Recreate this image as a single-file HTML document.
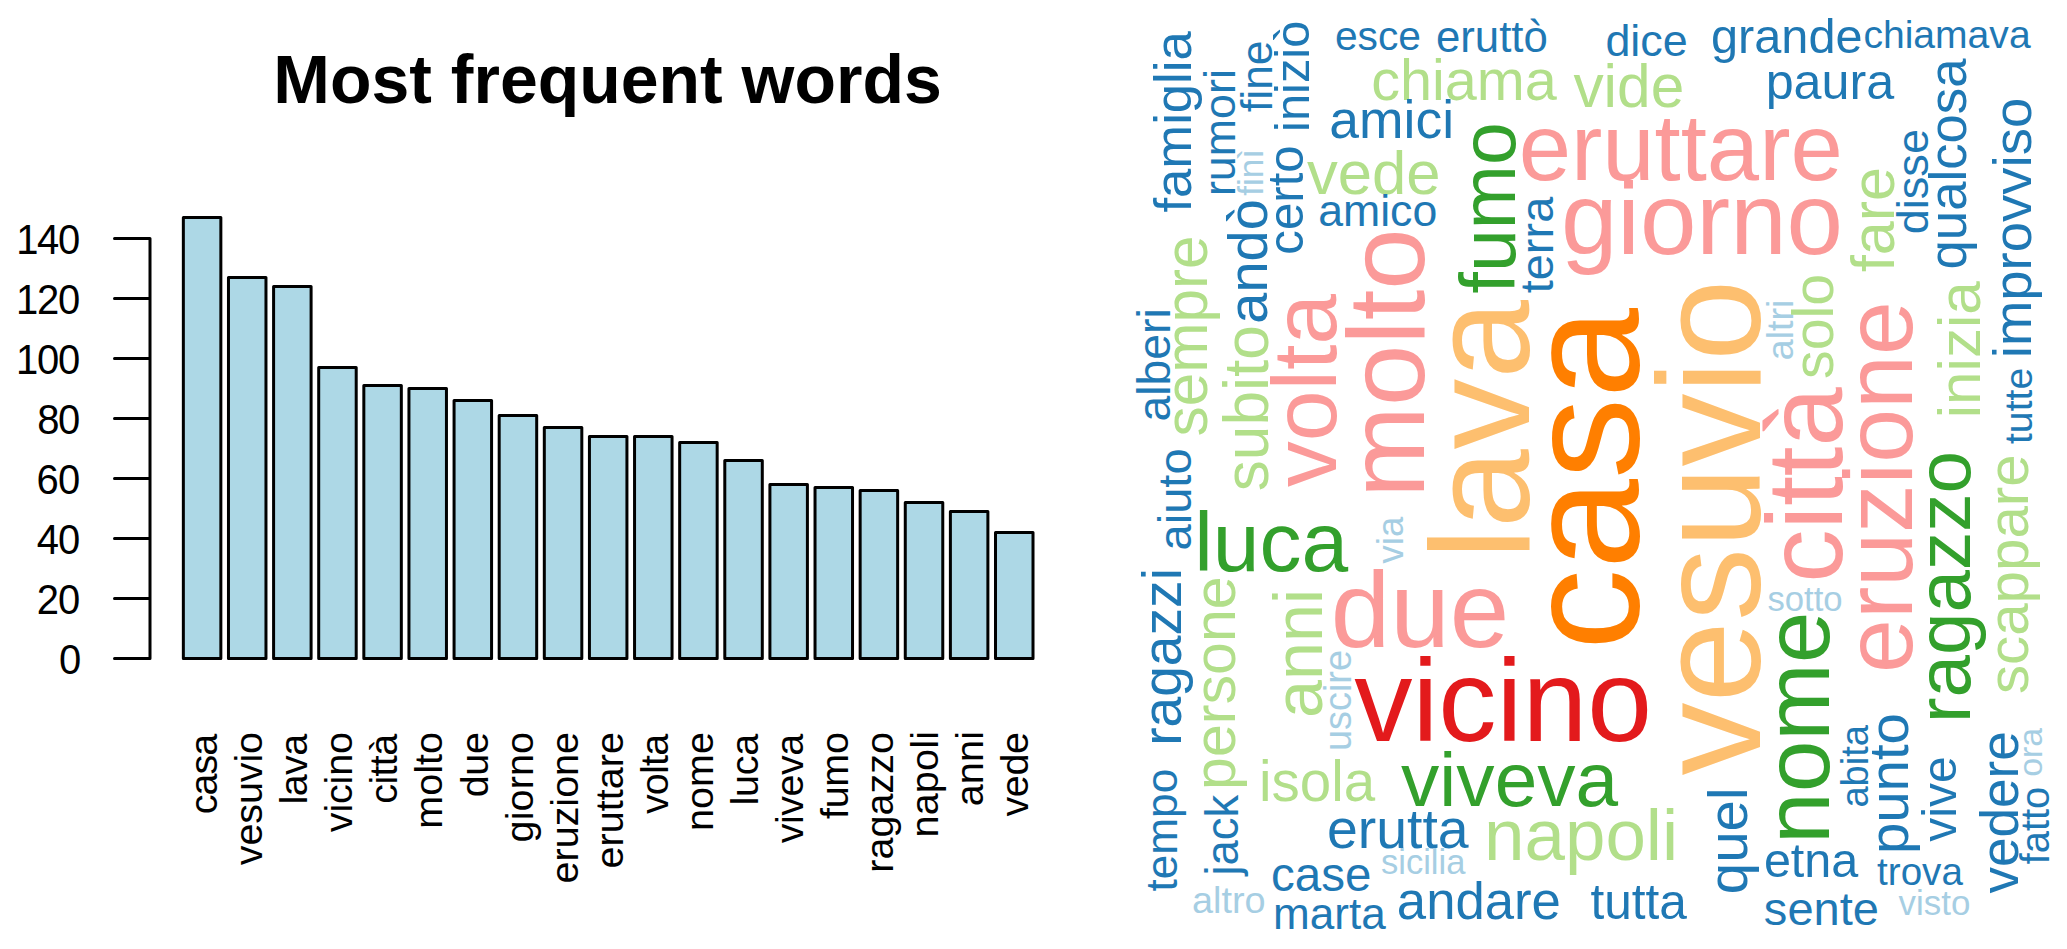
<!DOCTYPE html>
<html><head><meta charset="utf-8"><title>Most frequent words</title>
<style>html,body{margin:0;padding:0;background:#fff;width:2067px;height:949px;overflow:hidden}
svg text{font-family:"Liberation Sans",sans-serif}</style></head>
<body>
<svg width="2067" height="949" viewBox="0 0 2067 949" style="position:absolute;left:0;top:0">
<rect width="2067" height="949" fill="#fff"/>
<g fill="#ADD8E6" stroke="#000" stroke-width="3" stroke-linejoin="round"><rect x="183.35" y="217.60" width="37.50" height="441.00"/><rect x="228.47" y="277.60" width="37.50" height="381.00"/><rect x="273.59" y="286.60" width="37.50" height="372.00"/><rect x="318.71" y="367.60" width="37.50" height="291.00"/><rect x="363.83" y="385.60" width="37.50" height="273.00"/><rect x="408.95" y="388.60" width="37.50" height="270.00"/><rect x="454.07" y="400.60" width="37.50" height="258.00"/><rect x="499.19" y="415.60" width="37.50" height="243.00"/><rect x="544.31" y="427.60" width="37.50" height="231.00"/><rect x="589.43" y="436.60" width="37.50" height="222.00"/><rect x="634.55" y="436.60" width="37.50" height="222.00"/><rect x="679.67" y="442.60" width="37.50" height="216.00"/><rect x="724.79" y="460.60" width="37.50" height="198.00"/><rect x="769.91" y="484.60" width="37.50" height="174.00"/><rect x="815.03" y="487.60" width="37.50" height="171.00"/><rect x="860.15" y="490.60" width="37.50" height="168.00"/><rect x="905.27" y="502.60" width="37.50" height="156.00"/><rect x="950.39" y="511.60" width="37.50" height="147.00"/><rect x="995.51" y="532.60" width="37.50" height="126.00"/></g>
<path d="M150.0,238.60 L150.0,658.60 M114.5,658.60 L150.0,658.60 M114.5,598.60 L150.0,598.60 M114.5,538.60 L150.0,538.60 M114.5,478.60 L150.0,478.60 M114.5,418.60 L150.0,418.60 M114.5,358.60 L150.0,358.60 M114.5,298.60 L150.0,298.60 M114.5,238.60 L150.0,238.60" stroke="#000" stroke-width="3" fill="none" stroke-linecap="round"/>
<text transform="translate(59.05,673.60) scale(1,1.04)" font-size="40.0" letter-spacing="0.00">0</text>
<text transform="translate(36.73,613.60) scale(1,1.04)" font-size="40.0" letter-spacing="-0.92">20</text>
<text transform="translate(36.77,553.60) scale(1,1.04)" font-size="40.0" letter-spacing="-0.97">40</text>
<text transform="translate(36.52,493.60) scale(1,1.04)" font-size="40.0" letter-spacing="-0.72">60</text>
<text transform="translate(37.35,433.60) scale(1,1.04)" font-size="40.0" letter-spacing="-1.55">80</text>
<text transform="translate(16.00,373.60) scale(1,1.04)" font-size="40.0" letter-spacing="-1.22">100</text>
<text transform="translate(16.00,313.60) scale(1,1.04)" font-size="40.0" letter-spacing="-1.22">120</text>
<text transform="translate(16.20,253.60) scale(1,1.04)" font-size="40.0" letter-spacing="-1.32">140</text>
<text transform="translate(217.10,814.33) rotate(-90)" font-size="39.5" letter-spacing="-0.98">casa</text>
<text transform="translate(262.17,865.20) rotate(-90)" font-size="39.5" letter-spacing="-0.12">vesuvio</text>
<text transform="translate(307.24,804.57) rotate(-90)" font-size="39.5" letter-spacing="-0.58">lava</text>
<text transform="translate(352.31,832.20) rotate(-90)" font-size="39.5" letter-spacing="-0.16">vicino</text>
<text transform="translate(397.38,803.73) rotate(-90)" font-size="39.5" letter-spacing="-0.64">città</text>
<text transform="translate(442.45,828.67) rotate(-90)" font-size="39.5" letter-spacing="0.02">molto</text>
<text transform="translate(487.52,797.33) rotate(-90)" font-size="39.5" letter-spacing="-0.28">due</text>
<text transform="translate(532.59,842.43) rotate(-90)" font-size="39.5" letter-spacing="0.13">giorno</text>
<text transform="translate(577.66,883.43) rotate(-90)" font-size="39.5" letter-spacing="-0.01">eruzione</text>
<text transform="translate(622.73,868.43) rotate(-90)" font-size="39.5" letter-spacing="0.04">eruttare</text>
<text transform="translate(667.80,814.10) rotate(-90)" font-size="39.5" letter-spacing="-0.80">volta</text>
<text transform="translate(712.87,830.97) rotate(-90)" font-size="39.5" letter-spacing="0.05">nome</text>
<text transform="translate(757.94,805.57) rotate(-90)" font-size="39.5" letter-spacing="-0.25">luca</text>
<text transform="translate(803.01,843.20) rotate(-90)" font-size="39.5" letter-spacing="-0.52">viveva</text>
<text transform="translate(848.08,819.10) rotate(-90)" font-size="39.5" letter-spacing="-0.24">fumo</text>
<text transform="translate(893.15,872.67) rotate(-90)" font-size="39.5" letter-spacing="0.02">ragazzo</text>
<text transform="translate(938.22,837.57) rotate(-90)" font-size="39.5" letter-spacing="0.23">napoli</text>
<text transform="translate(983.29,806.33) rotate(-90)" font-size="39.5" letter-spacing="0.22">anni</text>
<text transform="translate(1028.36,816.50) rotate(-90)" font-size="39.5" letter-spacing="-0.38">vede</text>
<text x="273.35" y="102.80" font-size="67.97" font-weight="bold" font-family="Liberation Sans">Most frequent words</text>
<g font-family="Liberation Sans"><text x="1334.93" y="49.50" font-size="40.72" fill="#1F78B4">esce</text>
<text x="1435.93" y="52.30" font-size="43.78" fill="#1F78B4">eruttò</text>
<text x="1605.40" y="56.00" font-size="44.87" fill="#1F78B4">dice</text>
<text x="1710.98" y="52.70" font-size="48.69" fill="#1F78B4">grande</text>
<text x="1863.38" y="48.30" font-size="39.08" fill="#1F78B4">chiamava</text>
<text x="1371.20" y="99.50" font-size="57.59" fill="#B2DF8A">chiama</text>
<text x="1573.40" y="107.40" font-size="60.43" fill="#B2DF8A">vide</text>
<text x="1765.66" y="99.20" font-size="50.25" fill="#1F78B4">paura</text>
<text x="1329.33" y="138.00" font-size="53.44" fill="#1F78B4">amici</text>
<text x="1518.66" y="179.50" font-size="94.06" fill="#FB9A99">eruttare</text>
<text x="1307.00" y="193.70" font-size="61.61" fill="#B2DF8A">vede</text>
<text x="1318.20" y="225.50" font-size="44.65" fill="#1F78B4">amico</text>
<text x="1560.93" y="253.80" font-size="101.51" fill="#FB9A99">giorno</text>
<text x="1194.15" y="571.20" font-size="83.96" fill="#33A02C">luca</text>
<text x="1330.86" y="647.20" font-size="106.97" fill="#FB9A99">due</text>
<text x="1767.46" y="611.00" font-size="34.66" fill="#A6CEE3">sotto</text>
<text x="1354.20" y="741.40" font-size="116.49" fill="#E31A1C">vicino</text>
<text x="1259.07" y="801.20" font-size="56.49" fill="#B2DF8A">isola</text>
<text x="1401.10" y="805.80" font-size="76.56" fill="#33A02C">viveva</text>
<text x="1326.97" y="847.90" font-size="55.41" fill="#1F78B4">erutta</text>
<text x="1484.05" y="860.20" font-size="72.74" fill="#B2DF8A">napoli</text>
<text x="1380.96" y="874.00" font-size="34.53" fill="#A6CEE3">sicilia</text>
<text x="1271.02" y="890.50" font-size="47.49" fill="#1F78B4">case</text>
<text x="1763.88" y="877.20" font-size="48.56" fill="#1F78B4">etna</text>
<text x="1877.10" y="884.80" font-size="38.57" fill="#1F78B4">trova</text>
<text x="1192.02" y="912.90" font-size="37.84" fill="#A6CEE3">altro</text>
<text x="1898.60" y="915.10" font-size="34.88" fill="#A6CEE3">visto</text>
<text x="1396.85" y="918.50" font-size="52.70" fill="#1F78B4">andare</text>
<text x="1590.40" y="919.00" font-size="49.64" fill="#1F78B4">tutta</text>
<text x="1763.86" y="925.20" font-size="47.07" fill="#1F78B4">sente</text>
<text x="1273.04" y="929.40" font-size="44.08" fill="#1F78B4">marta</text>
<text transform="translate(1191.30,212.50) rotate(-90)" font-size="52.58" fill="#1F78B4">famiglia</text>
<text transform="translate(1235.40,196.10) rotate(-90)" font-size="44.80" fill="#1F78B4">rumori</text>
<text transform="translate(1262.90,195.80) rotate(-90)" font-size="35.14" fill="#A6CEE3">finì</text>
<text transform="translate(1271.80,112.10) rotate(-90)" font-size="44.47" fill="#1F78B4">fine</text>
<text transform="translate(1308.50,131.95) rotate(-90)" font-size="48.86" fill="#1F78B4">iniziò</text>
<text transform="translate(1303.10,254.64) rotate(-90)" font-size="49.18" fill="#1F78B4">certo</text>
<text transform="translate(1266.50,323.65) rotate(-90)" font-size="55.93" fill="#1F78B4">andò</text>
<text transform="translate(1170.30,421.45) rotate(-90)" font-size="46.28" fill="#1F78B4">alberi</text>
<text transform="translate(1207.00,436.44) rotate(-90)" font-size="60.27" fill="#B2DF8A">sempre</text>
<text transform="translate(1268.00,491.27) rotate(-90)" font-size="62.24" fill="#B2DF8A">subito</text>
<text transform="translate(1335.50,487.00) rotate(-90)" font-size="91.47" fill="#FB9A99">volta</text>
<text transform="translate(1424.00,497.89) rotate(-90)" font-size="110.23" fill="#FB9A99">molto</text>
<text transform="translate(1515.00,293.50) rotate(-90)" font-size="77.06" fill="#33A02C">fumo</text>
<text transform="translate(1553.30,293.30) rotate(-90)" font-size="46.98" fill="#1F78B4">terra</text>
<text transform="translate(1528.80,559.54) rotate(-90)" font-size="141.43" fill="#FDBF6F">lava</text>
<text transform="translate(1638.20,650.06) rotate(-90)" font-size="162.02" fill="#FF7F00">casa</text>
<text transform="translate(1759.50,775.50) rotate(-90)" font-size="146.26" fill="#FDBF6F">vesuvio</text>
<text transform="translate(1792.70,360.27) rotate(-90)" font-size="37.58" fill="#A6CEE3">altri</text>
<text transform="translate(1833.20,379.00) rotate(-90)" font-size="57.36" fill="#B2DF8A">solo</text>
<text transform="translate(1841.70,582.83) rotate(-90)" font-size="106.63" fill="#FB9A99">città</text>
<text transform="translate(1894.00,272.10) rotate(-90)" font-size="60.98" fill="#B2DF8A">fare</text>
<text transform="translate(1928.00,234.31) rotate(-90)" font-size="45.12" fill="#1F78B4">disse</text>
<text transform="translate(1965.60,269.45) rotate(-90)" font-size="52.69" fill="#1F78B4">qualcosa</text>
<text transform="translate(2031.40,358.21) rotate(-90)" font-size="54.51" fill="#1F78B4">improvviso</text>
<text transform="translate(1980.00,418.26) rotate(-90)" font-size="60.11" fill="#B2DF8A">inizia</text>
<text transform="translate(2031.60,444.00) rotate(-90)" font-size="39.15" fill="#1F78B4">tutte</text>
<text transform="translate(1912.00,673.03) rotate(-90)" font-size="96.97" fill="#FB9A99">eruzione</text>
<text transform="translate(1970.00,722.98) rotate(-90)" font-size="76.45" fill="#33A02C">ragazzo</text>
<text transform="translate(2028.10,694.11) rotate(-90)" font-size="58.29" fill="#B2DF8A">scappare</text>
<text transform="translate(1190.60,550.47) rotate(-90)" font-size="47.07" fill="#1F78B4">aiuto</text>
<text transform="translate(1402.80,563.40) rotate(-90)" font-size="36.43" fill="#A6CEE3">via</text>
<text transform="translate(1181.00,745.85) rotate(-90)" font-size="55.15" fill="#1F78B4">ragazzi</text>
<text transform="translate(1234.80,789.89) rotate(-90)" font-size="59.08" fill="#B2DF8A">persone</text>
<text transform="translate(1322.10,718.04) rotate(-90)" font-size="68.42" fill="#B2DF8A">anni</text>
<text transform="translate(1350.70,751.07) rotate(-90)" font-size="37.94" fill="#A6CEE3">uscire</text>
<text transform="translate(1829.10,844.01) rotate(-90)" font-size="92.89" fill="#33A02C">nome</text>
<text transform="translate(1867.80,807.59) rotate(-90)" font-size="38.11" fill="#1F78B4">abita</text>
<text transform="translate(1907.50,854.12) rotate(-90)" font-size="56.39" fill="#1F78B4">punto</text>
<text transform="translate(1955.50,841.80) rotate(-90)" font-size="48.05" fill="#1F78B4">vive</text>
<text transform="translate(2017.50,893.60) rotate(-90)" font-size="53.13" fill="#1F78B4">vedere</text>
<text transform="translate(2041.90,776.76) rotate(-90)" font-size="33.86" fill="#A6CEE3">ora</text>
<text transform="translate(2048.60,864.30) rotate(-90)" font-size="39.84" fill="#1F78B4">fatto</text>
<text transform="translate(1176.70,891.60) rotate(-90)" font-size="44.22" fill="#1F78B4">tempo</text>
<text transform="translate(1238.20,875.58) rotate(-90)" font-size="45.47" fill="#1F78B4">jack</text>
<text transform="translate(1746.90,894.16) rotate(-90)" font-size="56.43" fill="#1F78B4">quel</text></g>
</svg>
</body></html>
